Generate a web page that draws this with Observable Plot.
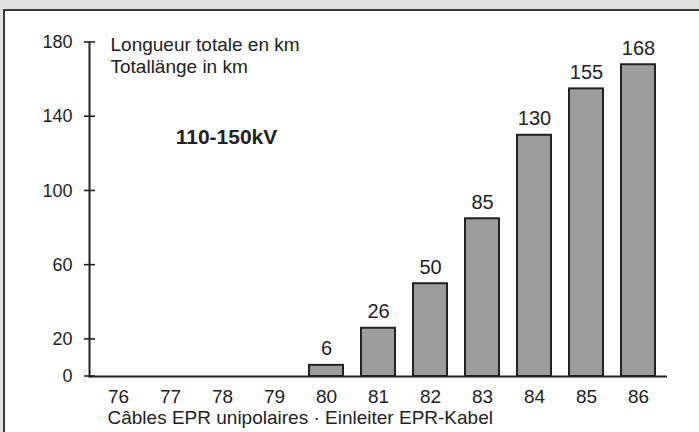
<!DOCTYPE html>
<html>
<head>
<meta charset="utf-8">
<script src="https://cdn.jsdelivr.net/npm/d3@7"></script>
<script src="https://cdn.jsdelivr.net/npm/@observablehq/plot@0.6"></script>
<style>
  html, body { margin: 0; padding: 0; overflow: hidden; background: #ffffff; }
  body { width: 699px; height: 432px; position: relative; font-family: "Liberation Sans", Arial, Helvetica, sans-serif; }
  #topstrip { position: absolute; left: 0; top: 0; width: 699px; height: 9px; background: #e0e0e0; }
  #leftstrip { position: absolute; left: 0; top: 0; width: 3px; height: 432px; background: #e0e0e0; }
  #panel { position: absolute; left: 3px; top: 9px; width: 760px; height: 480px; background: #ffffff; border-left: 2px solid #3a3a3a; border-top: 2px solid #3a3a3a; }
  #chart { position: absolute; left: 0; top: 0; }
</style>
</head>
<body>
<div id="topstrip"></div>
<div id="leftstrip"></div>
<div id="panel"></div>
<div id="chart"></div>
<script>
const years = ["76", "77", "78", "79", "80", "81", "82", "83", "84", "85", "86"];
const lengths = [0, 0, 0, 0, 6, 26, 50, 85, 130, 155, 168];
const labeledYears = ["80", "81", "82", "83", "84", "85", "86"];
const yTicks = [0, 20, 60, 100, 140, 180];
const titleText = "Longueur totale en km\nTotallänge in km";
const voltageText = "110-150kV";
const captionText = "Câbles EPR unipolaires · Einleiter EPR-Kabel";

const data = years.map((y, i) => ({year: y, km: lengths[i]}));
const labeled = data.filter(d => labeledYears.includes(d.year));

const ink = "#222222";

// crossing tick marks on the y axis, positioned through Plot's y scale
function crossTicks(index, scales, values, dimensions) {
  const g = d3.create("svg:g").attr("stroke", ink).attr("stroke-width", 1.6);
  const x0 = dimensions.marginLeft;
  for (const t of yTicks) {
    const yy = scales.y(t);
    g.append("line").attr("x1", x0 - 5).attr("x2", x0 + 6).attr("y1", yy).attr("y2", yy);
  }
  return g.node();
}

const chart = Plot.plot({
  width: 699,
  height: 432,
  marginLeft: 89,
  marginRight: 32,
  marginTop: 42,
  marginBottom: 56,
  style: {background: "transparent", fontFamily: "'Liberation Sans', Arial, Helvetica, sans-serif", color: ink},
  x: {domain: years, paddingInner: 0.35, paddingOuter: 0.2, label: null},
  y: {domain: [0, 180], label: null},
  marks: [
    Plot.barY(data.filter(d => d.km > 0), {x: "year", y: "km", fill: "#9d9d9d", stroke: ink, strokeWidth: 2}),
    Plot.ruleY([0], {stroke: ink, strokeWidth: 2}),
    Plot.frame({anchor: "left", stroke: ink, strokeWidth: 2}),
    crossTicks,
    Plot.axisY({ticks: yTicks, tickSize: 0, tickPadding: 17, fontSize: 18, label: null}),
    Plot.axisX({tickSize: 0, tickPadding: 13, fontSize: 19, label: null}),
    Plot.text(labeled, {x: "year", y: "km", text: d => String(d.km), lineAnchor: "bottom", dy: -10, fontSize: 20, fill: ink}),
    Plot.text([titleText], {frameAnchor: "top-left", dx: 21, dy: -7, lineAnchor: "top", textAnchor: "start", lineHeight: 1.15, fontSize: 19, letterSpacing: 0.5, fill: ink}),
    Plot.text([voltageText], {frameAnchor: "top-left", dx: 137, dy: 95, lineAnchor: "middle", textAnchor: "middle", fontSize: 21, letterSpacing: 0.5, fontWeight: "bold", fill: ink}),
    Plot.text([captionText], {frameAnchor: "bottom-left", dx: 18, dy: 34, lineAnchor: "top", textAnchor: "start", fontSize: 19, fill: ink})
  ]
});
document.getElementById("chart").appendChild(chart);
</script>
</body>
</html>
